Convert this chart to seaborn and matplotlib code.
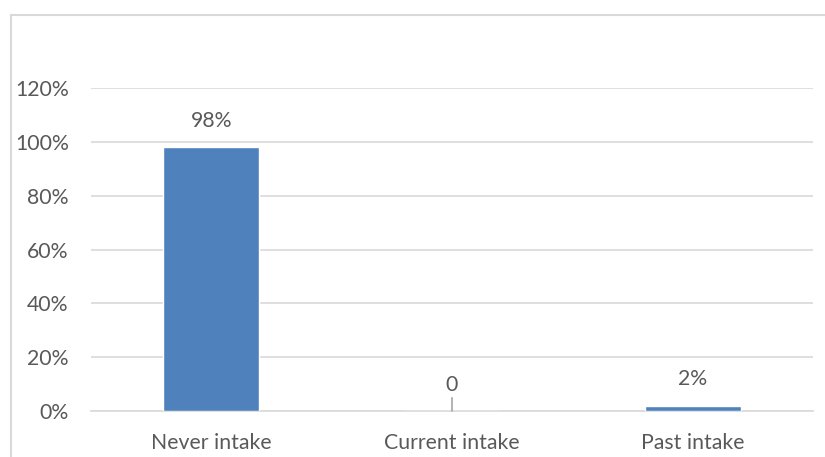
import matplotlib
matplotlib.use("Agg")
import matplotlib.pyplot as plt
import seaborn as sns
import pandas as pd
from matplotlib.patches import Rectangle
from matplotlib.ticker import PercentFormatter

categories = ["Never intake", "Current intake", "Past intake"]
shares = [0.98, 0.0, 0.02]
value_labels = ["98%", "0", "2%"]
y_ticks = [0.0, 0.2, 0.4, 0.6, 0.8, 1.0, 1.2]

sns.set_theme(style="white")
plt.rcParams["font.family"] = ["Lato", "DejaVu Sans"]

TEXT = "#595959"
GRID = "#D9D9D9"
BAR = "#4F81BD"
FS = 15.3

df = pd.DataFrame({"category": categories, "share": shares})

W, H = 825, 457
fig = plt.figure(figsize=(W / 100, H / 100), dpi=100)
ax = fig.add_axes([91 / W, 1 - 411 / H, (813 - 91) / W, (411 - 88) / H])

sns.barplot(data=df, x="category", y="share", color=BAR, width=0.4,
            saturation=1, ax=ax, zorder=3)

ax.set_ylim(0, 1.2)
ax.set_yticks(y_ticks)
ax.yaxis.set_major_formatter(PercentFormatter(1.0, decimals=0))
ax.grid(axis="y", color=GRID, linewidth=1.2, zorder=0)
ax.set_xlabel("")
ax.set_ylabel("")
for side in ["top", "right", "left"]:
    ax.spines[side].set_visible(False)
ax.spines["bottom"].set_color(GRID)
ax.spines["bottom"].set_linewidth(1.2)
ax.tick_params(axis="both", length=0, labelsize=FS, colors=TEXT)
ax.tick_params(axis="x", pad=16)
ax.tick_params(axis="y", pad=16)

# value labels above each bar
for i, (v, lab) in enumerate(zip(shares, value_labels)):
    ax.annotate(lab, xy=(i, v), xytext=(0, 14.5), textcoords="offset points",
                ha="center", va="baseline", fontsize=FS, color=TEXT)
    if v == 0:
        # leader line from label down to the empty bar
        ax.annotate("", xy=(i, v), xytext=(0, 9.5), textcoords="offset points",
                    arrowprops=dict(arrowstyle="-", color="#A6A6A6", lw=1.2,
                                    shrinkA=0, shrinkB=0))

# chart area border
fig.patches.append(Rectangle((11 / W, -0.1), 1.2, 1 - 15 / H + 0.1,
                             transform=fig.transFigure, fill=False,
                             edgecolor="#D9D9D9", linewidth=1.5))

fig.savefig("out.png", dpi=100, facecolor="white")
